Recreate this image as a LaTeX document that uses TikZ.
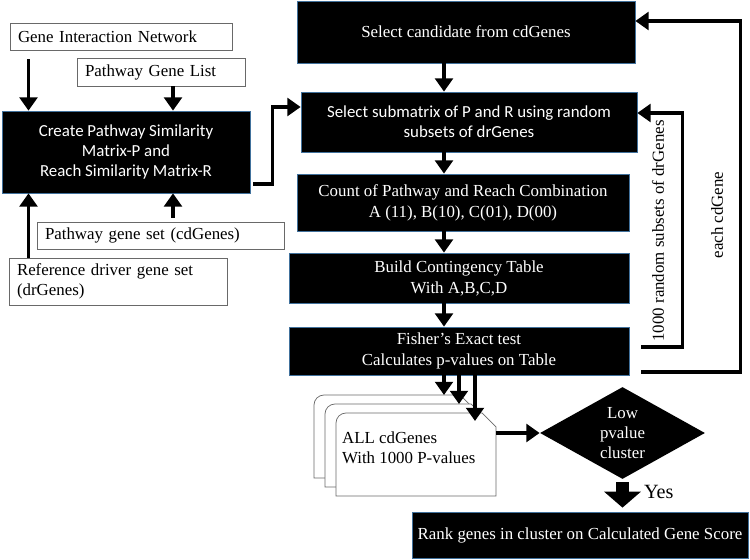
\documentclass[tikz,border=0pt]{standalone}
\usepackage{fontspec}
\setmainfont{Liberation Serif}
\newfontfamily\calib{Carlito}
\usetikzlibrary{arrows.meta}
\usetikzlibrary{shapes.geometric}
\usetikzlibrary{calc}
\usetikzlibrary{positioning}

\definecolor{boxline}{RGB}{65,113,156}
\definecolor{greyline}{RGB}{105,105,105}

\begin{document}
\begin{tikzpicture}

\useasboundingbox (0,0) rectangle (15,11.2);

\tikzset{
  inbox/.style={draw=greyline, fill=white, align=left, inner xsep=0.16cm, inner ysep=0pt, font=\fontsize{9.6}{12}\selectfont},
  blkbox/.style={draw=boxline, fill=black, text=white, align=center, inner sep=0pt, font=\fontsize{9.6}{12}\selectfont},
  lbl/.style={inner sep=1pt, font=\fontsize{9.6}{12}\selectfont},
  arr/.style={line width=2.1pt, -{Triangle[width=10pt,length=7.5pt]}},
  doc/.style={draw=greyline, fill=white, thin},
}

\node [inbox, text width=4.12cm, minimum height=0.54cm] (gin) at (2.42, 10.47) {Gene Interaction Network};
\node [inbox, text width=3.04cm, minimum height=0.56cm] (pgl) at (3.22, 9.76) {Pathway Gene List};
\node [blkbox, minimum width=4.96cm, minimum height=1.64cm, font=\calib\fontsize{9.6}{11.4}\selectfont] (cpm) at (2.52, 8.16) {Create Pathway Similarity\\Matrix-P and\\Reach Similarity Matrix-R};
\node [inbox, text width=4.62cm, minimum height=0.54cm] (pgs) at (3.21, 6.49) {Pathway gene set (cdGenes)};
\node [inbox, text width=4.04cm, minimum height=0.94cm, font=\fontsize{9.6}{11.4}\selectfont] (rdg) at (2.36, 5.57) {Reference driver gene set\\(drGenes)};

\node [blkbox, minimum width=6.76cm, minimum height=1.24cm] (scg) at (9.32, 10.56) {Select candidate from cdGenes};
\node [blkbox, minimum width=6.72cm, minimum height=1.2cm, font=\calib\fontsize{9.6}{11.4}\selectfont] (ssm) at (9.38, 8.76) {Select submatrix of P and R using random\\subsets of drGenes};
\node [blkbox, minimum width=6.64cm, minimum height=1.14cm] (cnt) at (9.26, 7.15) {Count of Pathway and Reach Combination\\A (11), B(10), C(01), D(00)};
\node [blkbox, minimum width=6.8cm, minimum height=1.0cm] (bct) at (9.18, 5.64) {Build Contingency Table\\With A,B,C,D};
\node [blkbox, minimum width=6.8cm, minimum height=0.96cm] (fet) at (9.18, 4.18) {Fisher’s Exact test\\Calculates p-values on Table};

\foreach \s in {2,1,0} {
  \draw [doc, shift={(-0.22*\s, 0.18*\s)}] (6.72,1.28) -- (6.72,2.74) arc[start angle=180, end angle=90, radius=0.2] -- (9.64,2.94) -- (9.92,2.66) -- (9.92,1.28) -- cycle;
  \coordinate (top\s) at (6.72-0.22*\s, 2.94+0.18*\s);
}
\node [lbl, anchor=west, align=left, font=\fontsize{9.6}{11.4}\selectfont] (all) at (6.8, 2.24) {ALL cdGenes\\With 1000 P-values};

\node [diamond, fill=black, text=white, aspect=1.8, minimum width=3.3cm, minimum height=1.84cm, inner sep=0pt, align=center, font=\fontsize{9.6}{11.2}\selectfont] (dia) at (12.45, 2.54) {Low\\pvalue\\cluster};
\node [blkbox, minimum width=6.72cm, minimum height=0.92cm] (rank) at (11.6, 0.5) {Rank genes in cluster on Calculated Gene Score};
\node [lbl, anchor=west, font=\fontsize{11.5}{13}\selectfont] (yes) at (12.84, 1.36) {Yes};

\node [lbl, rotate=90] (rnd) at (13.16, 6.58) {1000 random subsets of drGenes};
\node [lbl, rotate=90] (each) at (14.34, 6.9) {each cdGene};

\coordinate (lx) at (0.57, 0);
\coordinate (mx) at (3.46, 0);
\coordinate (ax) at (8.88, 0);
\coordinate (docR) at (9.92, 0);

\draw [arr, shorten <=0.18cm] (gin.south -| lx) -- (cpm.north -| lx);
\draw [arr] (pgl.south -| mx) -- (cpm.north -| mx);
\draw [arr] (rdg.north -| lx) -- (cpm.south -| lx);
\draw [arr, shorten <=0.08cm] (pgs.north -| mx) -- (cpm.south -| mx);

\draw [arr, shorten <=0.06cm] ([yshift=-0.64cm]cpm.east) -- ++(0.44,0) |- ([yshift=0.3cm]ssm.west);

\draw [arr] (scg.south -| ax) -- (ssm.north -| ax);
\draw [arr] (ssm.south -| ax) -- (cnt.north -| ax);
\draw [arr] (cnt.south -| ax) -- (bct.north -| ax);
\draw [arr] (bct.south -| ax) -- (fet.north -| ax);

\draw [arr, shorten <=0.24cm] ([yshift=0.08cm]fet.east) -- ++(1.06,0) |- ([yshift=0.18cm]ssm.east);
\draw [arr, shorten <=0.24cm] ([yshift=-0.42cm]fet.east) -- ++(2.22,0) |- ([yshift=0.22cm]scg.east);

\draw [arr] ([xshift=-0.3cm]fet.south) -- ([xshift=-0.3cm]fet.south |- top2);
\draw [arr] (fet.south) -- (fet.south |- top1);
\draw [arr, shorten >=-0.16cm] ([xshift=0.32cm]fet.south) -- ([xshift=0.32cm]fet.south |- top0);

\draw [arr] (dia.west -| docR) -- (dia.west);
\draw [line width=0.26cm, -{Triangle[width=0.72cm,length=0.32cm]}, shorten <=0.06cm, shorten >=0.08cm] (dia.south) -- (dia.south |- rank.north);

\end{tikzpicture}
\end{document}
